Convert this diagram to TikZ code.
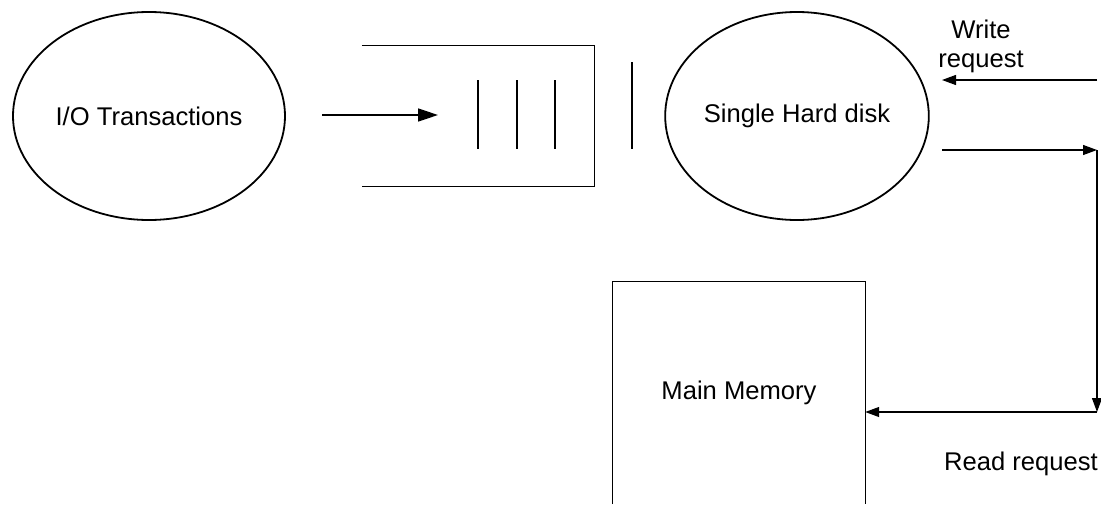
\documentclass[tikz,border=0pt]{standalone}
\usepackage{fontspec}
\setmainfont{Liberation Sans}
\usetikzlibrary{shapes.geometric,arrows.meta}
\begin{document}
\begin{tikzpicture}[x=1pt,y=-1pt,
  lbl/.style={font=\fontsize{25.6}{29}\selectfont, align=center},
  blob/.style={ellipse, draw, line width=1.8pt, inner sep=0pt, lbl},
  edge/.style={line width=1.2pt},
  bigtip/.style={line width=1.6pt, -{Triangle[length=20pt,width=13pt]}},
  smalltip/.style={edge, -{Triangle[length=14pt,width=10pt]}}]
\useasboundingbox (0,0) rectangle (1101,504);

% processes
\node[blob, minimum width=272pt, minimum height=208pt] (io) at (149,116) {I/O Transactions};
\node[blob, minimum width=253pt, minimum height=208pt] (hd) at (797,116) {Single Hard disk};

% queue (open on the left)
\node[minimum width=232pt, minimum height=140pt, inner sep=0pt] (q) at (478,116) {};
\draw[edge] (q.north west) -- (q.north east) -- (q.south east) -- (q.south west);
\draw[edge] (478,80) -- (478,149);
\draw[edge] (517,80) -- (517,149);
\draw[edge] (555,80) -- (555,149);
\draw[edge] (632,62) -- (632,149);

% main memory (runs off the bottom)
\node[lbl, minimum width=252pt, minimum height=222pt, inner sep=0pt] (mem) at (739,393) {Main Memory};
\draw[edge] (mem.south west) -- (mem.north west) -- (mem.north east) -- (mem.south east);

% connectors
\coordinate (inS) at (322,115);
\coordinate (inE) at (438,115);
\draw[bigtip] (inS) -- (inE);

\coordinate (wS) at (1097,80);
\coordinate (wE) at (942,80);
\draw[smalltip] (wS) -- (wE);

\coordinate (rS) at (942,150);
\coordinate (rA) at (1097,150);
\coordinate (rB) at (1097,412);
\draw[smalltip] (rS) -- (rA);
\draw[smalltip] (rA) -- (rB);
\draw[smalltip] (rB) -- (mem.east |- rB);

% labels
\node[lbl] (wl) at (981,46) {Write\\request};
\node[lbl] (rl) at (1021,464) {Read request};
\end{tikzpicture}
\end{document}
